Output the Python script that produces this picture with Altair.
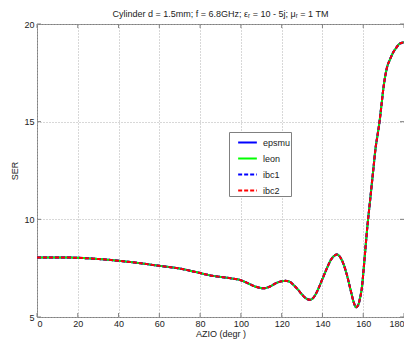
import altair as alt
import pandas as pd

# ---- data ----
angles = [0, 10, 20, 30, 40, 50, 60, 70, 80, 85, 90, 95, 100, 103, 106, 109, 111, 114, 117, 120,
          122, 124, 126, 128, 130, 132, 134, 136, 138, 140, 142, 144, 146, 147, 148, 150, 152, 154,
          155.5, 156.5, 157.5, 158.5, 159.5, 160, 161, 162, 163, 164, 165, 166, 167, 168, 169, 170,
          171, 172, 173, 174, 175, 176, 177, 178, 179, 180]
ser = [8.05, 8.05, 8.03, 7.97, 7.88, 7.76, 7.62, 7.48, 7.25, 7.13, 7.05, 6.98, 6.88, 6.75, 6.6,
       6.5, 6.47, 6.55, 6.72, 6.83, 6.85, 6.8, 6.62, 6.4, 6.15, 5.95, 5.88, 6.05, 6.45, 6.95,
       7.45, 7.9, 8.15, 8.2, 8.15, 7.8, 7.15, 6.3, 5.7, 5.5, 5.6, 6.0, 6.64, 7.2, 8.4, 9.6, 10.6,
       11.6, 12.6, 13.6, 14.3, 15.0, 15.9, 16.8, 17.45, 17.9, 18.15, 18.4, 18.6, 18.75, 18.9,
       19.0, 19.04, 19.07]
series_names = ["epsmu", "leon", "ibc1", "ibc2"]
series_colors = ["#0000ff", "#00ff00", "#0000ff", "#ff0000"]
series_dash = [[1, 0], [1, 0], [4, 2], [4, 2]]
x_ticks = [0, 20, 40, 60, 80, 100, 120, 140, 160, 180]
y_ticks = [5, 10, 15, 20]

title = "Cylinder d = 1.5mm; f = 6.8GHz; \u03b5\u1d63 = 10 - 5j; \u03bc\u1d63 = 1 TM"

rows = []
for s in series_names:
    for a, v in zip(angles, ser):
        rows.append({"angle": a, "ser": v, "series": s})
df = pd.DataFrame(rows)

W, H = 367, 293
FONT = "Liberation Sans"
TXT = "#222222"
AX = "#808080"

xscale = alt.Scale(domain=[0, 180], nice=False, zero=False)
yscale = alt.Scale(domain=[5, 20], nice=False, zero=False)

lines = alt.Chart(df).mark_line(strokeWidth=2, interpolate="monotone").encode(
    x=alt.X("angle:Q", scale=xscale,
            axis=alt.Axis(values=x_ticks, title="AZIO (degr )", ticks=False, domain=False,
                          grid=True, gridDash=[1, 2], gridColor="#b0b0b0",
                          labelPadding=2, titlePadding=1)),
    y=alt.Y("ser:Q", scale=yscale,
            axis=alt.Axis(values=y_ticks, title="SER", ticks=False, domain=False,
                          grid=True, gridDash=[1, 2], gridColor="#b0b0b0",
                          labelPadding=3, titlePadding=4)),
    color=alt.Color("series:N", scale=alt.Scale(domain=series_names, range=series_colors),
                    legend=alt.Legend(title=None, orient="none", legendX=192, legendY=108,
                                      symbolType="stroke", symbolSize=350, symbolStrokeWidth=2,
                                      strokeColor=AX, fillColor="white", padding=0,
                                      labelFontSize=9, labelFont=FONT, labelColor=TXT,
                                      rowPadding=-12, labelOffset=5, symbolOffset=8)),
    strokeDash=alt.StrokeDash("series:N",
                              scale=alt.Scale(domain=series_names, range=series_dash)),
)

tx = pd.DataFrame({"x": x_ticks})
ty = pd.DataFrame({"y": y_ticks})

bt = alt.Chart(tx).mark_rule(color=AX).encode(x=alt.X("x:Q", scale=xscale), y=alt.value(H), y2=alt.value(H - 4))
tt = alt.Chart(tx).mark_rule(color=AX).encode(x=alt.X("x:Q", scale=xscale), y=alt.value(0), y2=alt.value(4))
lt = alt.Chart(ty).mark_rule(color=AX).encode(y=alt.Y("y:Q", scale=yscale), x=alt.value(0), x2=alt.value(4))
rt = alt.Chart(ty).mark_rule(color=AX).encode(y=alt.Y("y:Q", scale=yscale), x=alt.value(W - 4), x2=alt.value(W))

chart = alt.layer(bt, tt, lt, rt, lines).properties(
    width=W, height=H,
    title=alt.TitleParams(title, fontSize=9, font=FONT, fontWeight="normal", color=TXT, offset=1),
    autosize=alt.AutoSizeParams(type="none"),
    padding={"left": 29, "top": 16, "right": 0, "bottom": 22},
).configure_view(stroke=AX, strokeWidth=1).configure_axis(
    labelFont=FONT, labelFontSize=9, labelColor=TXT,
    titleFont=FONT, titleFontSize=9, titleFontWeight="normal", titleColor=TXT,
)

chart.save("out.html", embed_options={"renderer": "svg", "actions": False})
